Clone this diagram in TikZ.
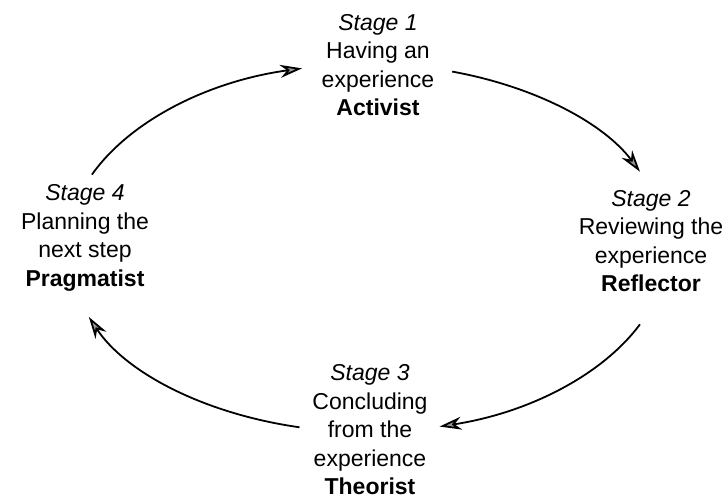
\documentclass[tikz,border=0pt]{standalone}
\usepackage{fontspec}
\setmainfont{Liberation Sans}
\usetikzlibrary{arrows.meta}

\tikzset{
    stagetext/.style={align=center, font=\fontsize{23}{28.5}\selectfont, inner sep=0pt},
    cyclearrow/.style={line width=1.8pt, -{Stealth[length=22pt, width=13pt, inset=7pt, fill=gray!80]}}
}

\begin{document}
\begin{tikzpicture}[x=1pt, y=1pt]
    \useasboundingbox (0,0) rectangle (725,499);

    % Centre of the cycle
    \coordinate (ctr) at (367,251);

    % Stages
    \node[stagetext] (stage1) at (378,434) {\textit{Stage 1}\\Having an\\experience\\\textbf{Activist}};
    \node[stagetext] (stage2) at (651,258) {\textit{Stage 2}\\Reviewing the\\experience\\\textbf{Reflector}};
    \node[stagetext] (stage3) at (370,69) {\textit{Stage 3}\\Concluding\\from the\\experience\\\textbf{Theorist}};
    \node[stagetext] (stage4) at (85,261) {\textit{Stage 4}\\Planning the\\next step\\\textbf{Pragmatist}};

    % Arrows round the cycle
    \draw[cyclearrow] ([shift={(156.5:300 and 184)}]ctr) arc[start angle=156.5, end angle=102.5, x radius=300, y radius=184];
    \draw[cyclearrow] ([shift={(73.5:300 and 184)}]ctr) arc[start angle=73.5, end angle=24.5, x radius=300, y radius=184];
    \draw[cyclearrow] ([shift={(-24.5:300 and 184)}]ctr) arc[start angle=-24.5, end angle=-76, x radius=300, y radius=184];
    \draw[cyclearrow] ([shift={(-103:300 and 184)}]ctr) arc[start angle=-103, end angle=-158, x radius=300, y radius=184];
\end{tikzpicture}
\end{document}
